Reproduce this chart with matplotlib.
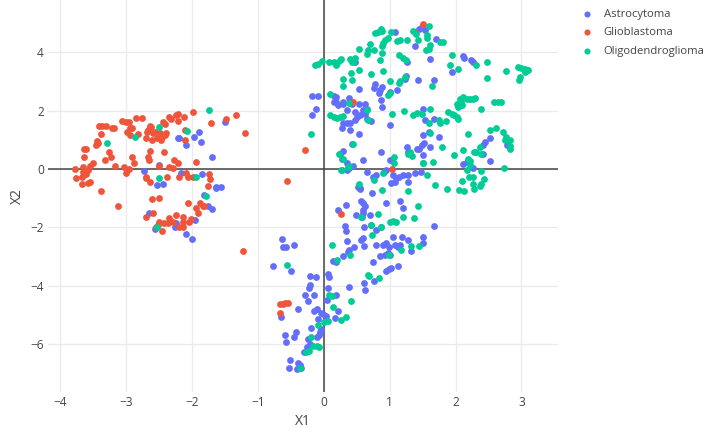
import numpy as np
import matplotlib
matplotlib.use("Agg")
import matplotlib.pyplot as plt

plt.rcParams['font.family'] = ['Open Sans', 'DejaVu Sans']

labels = ['Astrocytoma', 'Glioblastoma', 'Oligodendroglioma']
colors = ['#636efa', '#EF553B', '#00cc96']

# points (X1, X2)
astro_pts = [
    (1.45, 4.8), (1.54, 4.76), (1.49, 4.85), (1.08, 4.68), (1.39, 4.23), (1.70, 4.45),
    (1.27, 3.65), (2.11, 3.86), (2.13, 3.81), (2.23, 3.74), (2.26, 3.66), (1.62, 3.77),
    (1.95, 3.32), (0.48, 3.66), (1.23, 3.09), (1.25, 3.17), (1.43, 3.06), (1.67, 3.06),
    (0.78, 2.92), (0.76, 2.78), (0.88, 2.81), (0.86, 2.69), (0.84, 2.6), (1.0, 2.64),
    (1.11, 2.69), (0.54, 2.75), (-0.17, 2.49), (-0.08, 2.49), (-0.11, 2.07), (-0.17, 1.84),
    (0.15, 2.49), (0.19, 2.47), (0.18, 2.3), (0.15, 2.3), (0.21, 2.18), (0.29, 2.3),
    (0.39, 2.45), (0.4, 2.3), (0.43, 2.24), (0.35, 2.01), (0.29, 2.22), (0.53, 2.24),
    (0.48, 1.95), (0.63, 2.22), (0.6, 2.01), (0.63, 1.9), (0.65, 2.07), (0.55, 1.84),
    (0.5, 1.78), (0.87, 2.38), (0.88, 2.13), (0.65, 1.73), (0.48, 1.67), (0.4, 1.56),
    (0.35, 1.58), (0.3, 1.56), (0.28, 1.39), (0.4, 1.33), (0.54, 1.19), (0.72, 1.65),
    (1.01, 1.5), (1.53, 1.69), (1.5, 2.07), (1.67, 1.73), (2.78, 0.81), (2.53, 1.05),
    (2.44, 0.93), (2.42, 0.82), (2.42, 0.51), (2.53, 0.28), (2.18, 0.23), (2.12, 0.16),
    (2.27, 0.02), (2.19, 0.32), (1.59, 1.27), (1.51, 1.16), (1.49, 0.82), (1.75, 1.1),
    (1.52, 0.88), (1.61, 0.76), (1.44, 0.7), (1.41, 0.67), (1.27, 0.76), (1.28, 0.59),
    (1.5, 0.48), (1.01, 0.31), (0.87, 0.59), (0.59, 0.31), (0.43, 0.85), (0.3, 0.63),
    (0.25, 0.51), (0.28, 0.36), (0.35, 0.19), (0.38, 0.11), (0.39, 0.02), (0.35, -0.05),
    (-0.63, -2.39), (-0.61, -2.67), (-0.57, -2.67), (-0.45, -2.61), (-0.77, -3.31), (-0.5, -3.48),
    (-0.64, -5.06), (-0.21, -3.67), (-0.11, -3.7), (0.07, -3.61), (0.08, -3.69), (-0.21, -3.99),
    (-0.22, -4.07), (0.07, -4.07), (-0.29, -4.32), (-0.15, -4.33), (-0.24, -4.52), (0.05, -4.47),
    (0.18, -4.3), (-0.39, -4.81), (-0.14, -4.86), (-0.1, -4.81), (-0.04, -4.92), (-0.01, -4.98),
    (0.04, -5.03), (-0.09, -5.15), (-0.19, -5.43), (-0.04, -5.49), (-0.06, -5.6), (-0.07, -5.68),
    (-0.1, -5.77), (-0.58, -5.68), (-0.57, -5.92), (-0.45, -5.74), (-0.42, -5.6), (-0.24, -5.83),
    (-0.21, -6.0), (-0.25, -6.11), (-0.3, -6.26), (-0.51, -6.53), (-0.53, -6.8), (-0.39, -6.63),
    (-0.36, -6.72), (-0.34, -6.8), (-0.4, -6.85), (0.17, -5.09), (0.22, -4.86), (0.39, -4.03),
    (0.61, -3.92), (0.62, -4.13), (0.77, -3.84), (0.95, -3.5), (1.02, -3.39), (0.99, -3.44),
    (1.13, -3.31), (0.19, -3.19), (0.14, -3.16), (0.29, -2.99), (0.37, -2.85), (0.39, -2.76),
    (0.46, -2.67), (0.36, -2.45), (0.57, -2.44), (0.59, -2.36), (0.61, -2.65), (0.75, -3.18),
    (0.85, -2.99), (0.93, -2.93), (0.98, -2.88), (1.0, -2.93), (0.8, -2.61), (0.9, -2.61),
    (0.95, -2.53), (1.05, -2.33), (1.08, -2.59), (1.13, -2.67), (1.16, -2.59), (1.19, -2.33),
    (1.28, -2.44), (1.33, -2.82), (1.5, -2.33), (1.5, -2.53), (1.68, -1.94), (0.99, -2.67),
    (0.33, -1.94), (0.34, -2.14), (0.49, -1.57), (0.59, -1.51), (0.58, -1.63), (0.59, -1.4),
    (0.7, -1.57), (0.61, -1.97), (0.59, -1.17), (0.62, -1.28), (0.57, -1.11), (0.72, -1.91),
    (0.87, -1.97), (0.8, -2.08), (0.95, -1.15), (1.16, -1.11), (1.2, -1.34), (0.22, -1.42),
    (0.34, -1.23), (0.74, -0.83), (0.52, -0.6), (0.55, -0.66), (0.44, 0.1), (0.65, -0.09),
    (0.75, -0.26), (0.8, -0.2), (0.92, -0.09), (1.05, -0.2), (1.1, -0.32), (1.15, -0.26),
    (1.2, -0.2), (1.28, -0.2), (1.38, -0.15), (1.48, -0.09), (1.02, -0.49), (1.08, -0.43),
    (0.95, -0.03), (1.28, -0.43), (0.55, -0.68),
    (-1.5, 1.61), (-1.89, 1.27), (-1.96, 1.1), (-1.86, 0.93), (-2.09, 0.84), (-2.19, 1.05),
    (-2.21, 1.07), (-1.69, 0.42), (-2.73, -0.06), (-2.5, 0.14), (-2.16, -0.15), (-1.85, -0.17),
    (-2.53, -0.56), (-2.44, -0.51), (-1.63, -0.6), (-1.56, -0.6), (-1.63, -0.66), (-1.81, -0.89),
    (-1.75, -1.26), (-1.69, -1.38), (-2.65, -1.51), (-2.56, -2.06), (-2.26, -1.97), (-2.24, -1.85),
    (-2.09, -2.23), (-1.99, -2.39), (-1.95, -1.74),
]

glio_pts = [
    (-1.98, 1.95), (-2.21, 1.9), (-2.24, 1.84), (-2.35, 1.78), (-2.32, 1.73), (-2.43, 1.61),
    (-2.4, 1.53), (-2.21, 1.64), (-2.12, 1.78), (-1.71, 1.58), (-1.48, 1.72), (-1.33, 1.84),
    (-1.19, 1.25), (-2.84, 1.76), (-2.76, 1.75), (-3.06, 1.64), (-3.0, 1.6), (-2.95, 1.61),
    (-3.41, 1.47), (-3.36, 1.48), (-3.3, 1.49), (-3.21, 1.39), (-3.18, 1.39), (-3.38, 1.19),
    (-2.94, 1.41), (-2.98, 1.27), (-2.91, 1.39), (-2.94, 1.16), (-2.82, 1.19), (-2.64, 1.49),
    (-2.62, 1.44), (-2.66, 1.33), (-2.68, 1.27), (-2.59, 1.22), (-2.55, 1.28), (-2.69, 1.05),
    (-2.6, 0.99), (-2.52, 1.05), (-2.48, 1.22), (-2.45, 1.1), (-2.4, 1.16), (-2.39, 1.24),
    (-2.46, 1.01), (-2.11, 0.99), (-2.1, 1.35), (-3.44, 0.95), (-3.45, 0.82), (-3.42, 0.9),
    (-3.63, 0.7), (-3.6, 0.67), (-3.63, 0.42), (-3.26, 0.6), (-3.23, 0.42), (-3.31, 0.31),
    (-2.64, 0.61), (-2.42, 0.59), (-2.91, 0.4), (-2.88, 0.19), (-2.67, 0.4), (-2.65, 0.31),
    (-3.17, 0.1), (-3.03, 0.06), (-2.95, 0.0), (-2.99, -0.15), (-3.77, 0.0), (-3.65, 0.08),
    (-3.54, 0.1), (-3.5, 0.19), (-3.57, -0.03), (-3.75, -0.3), (-3.67, -0.26), (-3.67, -0.51),
    (-3.57, -0.49), (-3.55, -0.43), (-3.6, -0.17), (-3.65, -0.11), (-2.7, -0.26), (-2.69, -0.32),
    (-2.63, -0.43), (-2.49, 0.1), (-2.38, -0.28), (-2.34, 0.06), (-2.29, 0.02), (-2.21, 0.19),
    (-2.27, 0.31), (-2.19, -0.26), (-2.09, -0.15), (-2.06, -0.26), (-1.98, -0.26), (-1.93, 0.23),
    (-1.74, -0.17), (-1.72, -0.33), (-1.75, -0.58), (-3.38, -0.77), (-3.12, -1.25), (-2.61, -1.03),
    (-2.49, -1.0), (-2.59, -1.49), (-2.7, -1.63), (-2.5, -1.8), (-2.24, -1.59), (-2.14, -1.63),
    (-2.13, -1.8), (-2.29, -1.8), (-2.36, -1.85), (-2.42, -1.85), (-2.34, -1.68), (-2.04, -1.8),
    (-2.01, -1.72), (-2.19, -1.97), (-2.14, -1.99), (-2.06, -1.17), (-1.88, -1.17), (-1.83, -1.28),
    (-1.94, -1.34), (-1.91, -1.49), (-1.82, -1.26), (-2.54, -1.97), (-2.51, -1.91), (-2.45, -2.14),
    (-0.55, -0.41), (-1.22, -2.82), (0.26, -1.55), (1.04, 0.0), (-0.66, -4.64), (-0.62, -4.64),
    (-0.58, -4.6), (-0.54, -4.58), (-0.66, -4.92), (1.51, 4.97), (1.39, 4.68), (0.44, 2.3),
    (-0.28, 0.65),
]

oligo_pts = [
    (1.59, 4.89), (0.78, 4.65), (0.83, 4.68), (0.87, 4.8), (0.88, 4.72), (1.02, 4.7),
    (1.36, 4.74), (1.4, 4.63), (0.97, 4.49), (0.93, 4.42), (0.9, 4.31), (0.88, 4.23),
    (1.11, 4.4), (1.16, 4.42), (1.26, 4.42), (1.43, 4.42), (1.56, 4.6), (1.56, 4.49),
    (1.76, 4.34), (1.81, 4.36), (1.55, 4.08), (1.59, 4.1), (1.62, 4.25), (0.53, 4.11),
    (0.71, 4.28), (0.76, 4.08), (0.68, 4.08), (0.65, 3.94), (0.88, 3.97), (0.86, 3.72),
    (1.14, 3.89), (1.21, 3.81), (1.25, 3.72), (1.95, 3.92), (2.31, 3.58), (2.47, 3.65),
    (1.91, 3.58), (2.04, 3.43), (2.77, 3.35), (2.95, 3.51), (3.0, 3.45), (3.05, 3.43),
    (3.08, 3.38), (3.06, 3.32), (2.98, 3.15), (2.96, 3.06), (3.1, 3.4), (-0.13, 3.58),
    (-0.08, 3.6), (-0.03, 3.69), (0.08, 3.66), (0.15, 3.66), (0.2, 3.63), (0.25, 3.72),
    (0.18, 3.58), (0.26, 3.78), (0.4, 3.77), (0.43, 3.68), (0.48, 3.81), (0.45, 3.66),
    (0.41, 3.28), (0.54, 3.38), (0.72, 3.26), (0.9, 3.35), (1.0, 3.03), (1.16, 3.0),
    (1.14, 2.94), (1.23, 3.15), (0.3, 3.07), (0.43, 3.06), (0.29, 2.86), (1.65, 2.83),
    (2.47, 3.13), (0.97, 2.55), (1.01, 2.62), (-0.19, 1.19), (0.38, 2.26), (0.09, 2.58),
    (0.1, 1.84), (0.15, 1.78), (0.2, 1.76), (0.25, 1.78), (0.29, 1.82), (0.66, 2.03),
    (0.68, 1.67), (1.03, 1.88), (1.22, 1.99), (1.35, 1.84), (1.42, 1.92), (1.61, 2.07),
    (1.49, 1.9), (1.6, 1.59), (1.75, 1.69), (1.76, 1.56), (1.86, 1.65), (2.07, 2.41),
    (2.12, 2.47), (2.17, 2.41), (2.22, 2.41), (2.27, 2.41), (2.09, 2.3), (2.06, 2.18),
    (2.03, 2.13), (2.02, 2.24), (2.1, 2.18), (2.3, 2.45), (2.59, 2.3), (2.64, 2.3),
    (2.69, 2.3), (2.38, 2.07), (1.89, 1.95), (1.94, 1.9), (1.98, 1.84), (2.02, 1.78),
    (2.04, 1.7), (2.19, 1.19), (2.53, 1.33), (2.61, 1.39), (2.72, 1.27), (2.76, 1.1),
    (2.75, 1.01), (2.82, 0.99), (2.83, 0.78), (2.82, 0.68), (2.37, 0.76), (2.31, 0.59),
    (2.39, 0.51), (1.98, 0.48), (2.12, 0.65), (2.19, 0.33), (2.28, 0.57), (2.74, 0.02),
    (2.22, 0.14), (1.61, 1.24), (1.79, 0.76), (1.66, 0.23), (1.31, 0.59), (1.28, 0.51),
    (1.34, 0.44), (1.51, 0.19), (1.07, 0.42), (0.24, 0.51), (0.29, 0.33), (0.44, 0.85),
    (0.38, 0.09), (0.28, -0.02), (1.07, 0.2), (2.22, 0.26), (2.17, -0.02), (2.39, -0.08),
    (2.21, -0.27), (2.26, -0.27), (2.1, -0.42), (2.43, -0.33), (2.26, -0.51), (2.28, -0.67),
    (2.37, -0.57), (2.39, -0.53), (1.87, -0.7), (2.05, -0.73), (2.13, -0.77),
    (0.08, -4.3), (0.12, -4.35), (0.14, -4.72), (0.06, -5.2), (0.01, -5.24), (-0.09, -5.35),
    (-0.19, -5.77), (-0.16, -6.06), (-0.1, -6.06), (-0.07, -6.11), (-0.22, -6.23), (-0.27, -6.26),
    (-0.36, -6.8), (0.34, -5.06), (0.27, -5.17), (0.42, -4.52), (0.67, -3.64), (0.69, -3.65),
    (0.84, -3.73), (-0.56, -3.3), (0.13, -2.61), (0.2, -3.1), (0.4, -2.95), (0.99, -2.93),
    (1.17, -2.76), (1.33, -2.63), (1.44, -2.65), (0.56, -1.65), (0.82, -1.55), (0.72, -1.91),
    (0.74, -2.25), (0.87, -2.0), (1.0, -1.8), (1.05, -1.77), (1.09, -1.83), (1.2, -1.63),
    (1.37, -1.68), (1.43, -1.28), (0.53, -0.52), (0.88, -0.72), (1.28, -0.74), (1.69, -0.55),
    (0.27, -0.03), (0.37, 0.08), (0.76, -0.38), (0.9, -0.13), (1.56, -0.2), (1.51, 0.19),
    (-1.74, 2.01), (-3.29, 0.89), (-2.5, 1.44), (-2.86, 1.1), (-2.07, 1.3), (-2.5, -0.3),
    (-1.93, -0.28), (-1.78, -0.94), (-2.52, -1.99),
]

fig = plt.figure(figsize=(7.08, 4.28), dpi=100)
ax = fig.add_axes([0.0678, 0.084, 0.720, 0.916])

for pts, lab, col in zip([astro_pts, glio_pts, oligo_pts], labels, colors):
    arr = np.array(pts)
    ax.scatter(arr[:, 0], arr[:, 1], s=24, color=col, linewidths=0, label=lab, zorder=3)

ax.set_xlim(-4.18, 3.55)
ax.set_ylim(-7.64, 5.79)
ax.set_xticks(range(-4, 4))
ax.set_yticks(range(-6, 5, 2))
ax.set_xticklabels(['\u22124', '\u22123', '\u22122', '\u22121', '0', '1', '2', '3'])
ax.set_yticklabels(['\u22126', '\u22124', '\u22122', '0', '2', '4'])
ax.set_axisbelow(True)
ax.grid(True, color='#ebebeb', lw=1)
ax.axhline(0, color='#444444', lw=1.1, zorder=2)
ax.axvline(0, color='#444444', lw=1.1, zorder=2)
for s in ax.spines.values():
    s.set_visible(False)
ax.tick_params(length=0, labelsize=8.6, labelcolor='#444444', pad=3)
ax.set_xlabel('X1', fontsize=10, color='#444444', labelpad=3.5)
ax.set_ylabel('X2', fontsize=10, color='#444444', labelpad=4)

fig.legend(loc='upper left', bbox_to_anchor=(0.80, 1.0), frameon=False,
           fontsize=8.1, labelcolor='#444444', markerscale=0.9,
           handletextpad=0.5, labelspacing=0.65, borderaxespad=0.4)

fig.savefig('out.png', dpi=100)
